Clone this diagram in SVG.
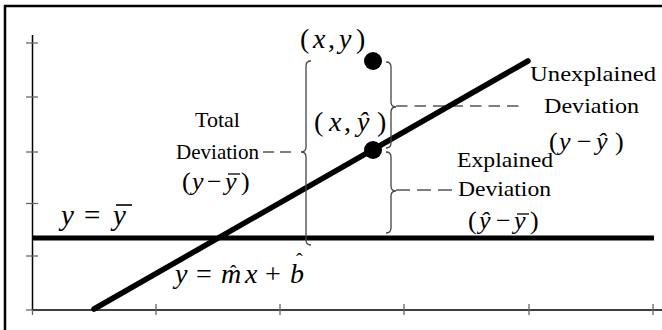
<svg xmlns="http://www.w3.org/2000/svg" width="662" height="330" viewBox="0 0 662 330">
<defs>
<style>
.frame{stroke:#000;stroke-width:2.5;fill:none}
.axis{stroke:#000;stroke-width:1.5;fill:none}
.tick{stroke:#666;stroke-width:1.3;fill:none}
.thick{stroke:#000;stroke-width:5;fill:none;stroke-linecap:round}
.brace{stroke:#444;stroke-width:1.3;fill:none}
.dash{stroke:#000;stroke-width:1.2;fill:none}
.bar{stroke:#000;stroke-width:1.3}
text{font-family:'Liberation Serif','Times New Roman',serif;fill:#000}
.lbl{font-size:21px}
.math{font-size:28px}
.it{font-style:italic}
.hat{font-size:20px}
</style>
</defs>
<rect width="662" height="330" fill="#fff"/>
<g id="frame">
<line class="frame" x1="4" y1="6" x2="662" y2="6"/>
<line class="frame" x1="5" y1="5" x2="5" y2="330"/>
</g>
<g id="axes">
<line class="axis" x1="32.5" y1="35" x2="32.5" y2="310"/>
<line class="axis" x1="32" y1="310" x2="662" y2="310"/>
<line class="tick" x1="26" y1="43" x2="38" y2="43"/>
<line class="tick" x1="26" y1="97" x2="38" y2="97"/>
<line class="tick" x1="26" y1="152" x2="38" y2="152"/>
<line class="tick" x1="26" y1="203.5" x2="38" y2="203.5"/>
<line class="tick" x1="26" y1="256" x2="38" y2="256"/>
<line class="tick" x1="26" y1="310" x2="33" y2="310"/>
<line class="tick" x1="32.5" y1="310" x2="32.5" y2="315"/>
<line class="tick" x1="156" y1="304" x2="156" y2="315"/>
<line class="tick" x1="280" y1="304" x2="280" y2="315"/>
<line class="tick" x1="404" y1="304" x2="404" y2="315"/>
<line class="tick" x1="529" y1="304" x2="529" y2="315"/>
<line class="tick" x1="653" y1="304" x2="653" y2="315"/>
</g>
<g id="connectors">
<line id="mean-line" class="thick" x1="32" y1="238" x2="654" y2="238" style="stroke-linecap:butt"/>
<line id="regression-line" class="thick" x1="94" y1="309" x2="528" y2="61" style="stroke-width:5.5"/>
<path id="brace-total" class="brace" d="M311 61 Q306 61 306 66 L306 147 Q306 152 301 152 Q306 152 306 157 L306 240 Q306 245 311 245"/>
<path id="brace-unexplained" class="brace" d="M386 62 Q391 62 391 67 L391 102 Q391 107 396 107 Q391 107 391 112 L391 143 Q391 148 386 148"/>
<path id="brace-explained" class="brace" d="M386 152 Q391 152 391 157 L391 186 Q391 191 396 191 Q391 191 391 196 L391 228 Q391 233 386 233"/>
<line class="dash" x1="263" y1="152" x2="297" y2="152" stroke-dasharray="11 6"/>
<line class="dash" x1="396" y1="106" x2="524" y2="106" stroke-dasharray="11.5 7"/>
<line class="dash" x1="396" y1="190" x2="453" y2="190" stroke-dasharray="14 7"/>
</g>
<g id="point-xy">
<circle cx="373" cy="61" r="9" fill="#000"/>
<text class="math" y="48"><tspan x="300">(</tspan><tspan class="it" x="313">x</tspan><tspan x="328">,</tspan><tspan class="it" x="339">y</tspan><tspan x="356">)</tspan></text>
</g>
<g id="point-xyhat">
<circle cx="373" cy="150" r="9" fill="#000"/>
<text class="math" y="131"><tspan x="314">(</tspan><tspan class="it" x="329">x</tspan><tspan x="344">,</tspan><tspan class="it" x="357">ŷ</tspan><tspan x="377">)</tspan></text>
</g>
<g id="label-total">
<text class="lbl" x="195" y="127" textLength="45" lengthAdjust="spacingAndGlyphs">Total</text>
<text class="lbl" x="176" y="159" textLength="83" lengthAdjust="spacingAndGlyphs">Deviation</text>
<text class="math" y="190" style="font-size:26px"><tspan x="182">(</tspan><tspan class="it" x="192">y</tspan><tspan x="207">−</tspan><tspan class="it" x="225">y</tspan><tspan x="241">)</tspan></text>
<line class="bar" x1="228" y1="174" x2="240" y2="174"/>
</g>
<g id="label-unexplained">
<text class="lbl" x="530" y="81" textLength="126" lengthAdjust="spacingAndGlyphs">Unexplained</text>
<text class="lbl" x="544" y="113" textLength="95" lengthAdjust="spacingAndGlyphs">Deviation</text>
<text class="math" y="150" style="font-size:26px"><tspan x="549">(</tspan><tspan class="it" x="559">y</tspan><tspan x="577">−</tspan><tspan class="it" x="596">ŷ</tspan><tspan x="615">)</tspan></text>
</g>
<g id="label-explained">
<text class="lbl" x="457" y="167" textLength="96" lengthAdjust="spacingAndGlyphs">Explained</text>
<text class="lbl" x="458" y="196" textLength="93" lengthAdjust="spacingAndGlyphs">Deviation</text>
<text class="math" y="229" style="font-size:26px"><tspan x="468">(</tspan><tspan class="it" x="479">ŷ</tspan><tspan x="496">−</tspan><tspan class="it" x="514">y</tspan><tspan x="530">)</tspan></text>
<line class="bar" x1="517" y1="214" x2="529" y2="214"/>
</g>
<g id="label-mean">
<text class="math" y="225" style="font-size:29px"><tspan class="it" x="61">y</tspan><tspan x="84">=</tspan><tspan class="it" x="113">y</tspan></text>
<line class="bar" x1="116" y1="205" x2="132" y2="205" style="stroke-width:1.6"/>
</g>
<g id="label-regression">
<text class="math" y="283"><tspan class="it" x="175">y</tspan><tspan x="196">=</tspan><tspan class="it" x="221">m</tspan><tspan class="hat" x="230" y="280">ˆ</tspan><tspan class="it" x="245" y="283">x</tspan><tspan x="265">+</tspan><tspan class="it" x="290">b</tspan><tspan class="hat" x="296" y="268">ˆ</tspan></text>
</g>
</svg>
